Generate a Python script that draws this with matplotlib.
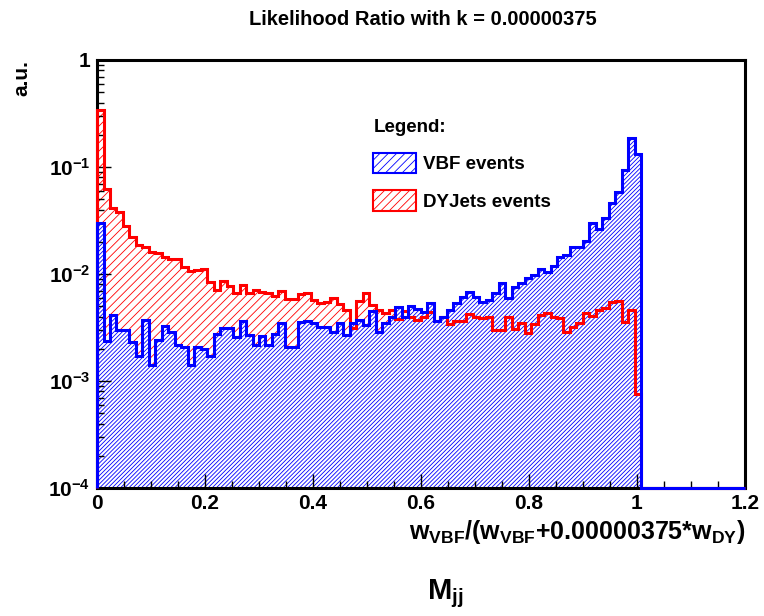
import numpy as np
import matplotlib

matplotlib.use("Agg")

import matplotlib.pyplot as plt
from matplotlib.patches import Patch
from matplotlib.ticker import FixedLocator, LogLocator, NullFormatter


# histogram contents, 100 bins over [0, 1.2], normalised (a.u.)
x_lo, x_hi, n_bins = 0.0, 1.2, 100

vbf_vals = [
    0.0298, 0.00238, 0.00414, 0.00300, 0.00300, 0.00233, 0.00172, 0.00372, 0.00141, 0.00242,
    0.00327, 0.00289, 0.00217, 0.00209, 0.00141, 0.00207, 0.00199, 0.00173, 0.00275, 0.00311,
    0.00310, 0.00255, 0.00366, 0.00271, 0.00217, 0.00264, 0.00217, 0.00273, 0.00346, 0.00209,
    0.00209, 0.00358, 0.00367, 0.00346, 0.00318, 0.00318, 0.00289, 0.00346, 0.00269, 0.00346,
    0.00372, 0.00334, 0.00454, 0.00289, 0.00346, 0.00399, 0.00495, 0.00394, 0.00497, 0.00471,
    0.00439, 0.00540, 0.00366, 0.00394, 0.00461, 0.00532, 0.00614, 0.00684, 0.00614, 0.00551,
    0.00571, 0.00660, 0.00818, 0.00593, 0.00756, 0.00818, 0.00912, 0.00979, 0.0111, 0.0105,
    0.0119, 0.0145, 0.0151, 0.0180, 0.0180, 0.0205, 0.0302, 0.0262, 0.0332, 0.0458,
    0.0588, 0.0937, 0.185, 0.132, 0, 0, 0, 0, 0, 0,
    0, 0, 0, 0, 0, 0, 0, 0, 0, 0,
]

dy_vals = [
    0.341, 0.0623, 0.0414, 0.0380, 0.0278, 0.0222, 0.0187, 0.0179, 0.0162, 0.0156,
    0.0145, 0.0137, 0.0137, 0.0116, 0.0107, 0.0109, 0.0112, 0.00833, 0.00715, 0.00861,
    0.00769, 0.00671, 0.00782, 0.00664, 0.00708, 0.00684, 0.00660, 0.00623, 0.00698, 0.00584,
    0.00584, 0.00650, 0.00660, 0.00571, 0.00532, 0.00551, 0.00601, 0.00521, 0.00461, 0.00311,
    0.00562, 0.00660, 0.00513, 0.00461, 0.00429, 0.00461, 0.00377, 0.00454, 0.00396, 0.00372,
    0.00394, 0.00444, 0.00366, 0.00394, 0.00341, 0.00366, 0.00366, 0.00423, 0.00394, 0.00385,
    0.00399, 0.00300, 0.00300, 0.00394, 0.00306, 0.00351, 0.00279, 0.00341, 0.00414, 0.00429,
    0.00399, 0.00385, 0.00289, 0.00322, 0.00346, 0.00429, 0.00405, 0.00461, 0.00478, 0.00551,
    0.00562, 0.00356, 0.00463, 0.000751, 0, 0, 0, 0, 0, 0,
    0, 0, 0, 0, 0, 0, 0, 0, 0, 0,
]

y_ticks = [1e-4, 1e-3, 1e-2, 1e-1, 1]
y_tick_labels = [r"$\mathrm{10^{-4}}$", r"$\mathrm{10^{-3}}$", r"$\mathrm{10^{-2}}$",
                 r"$\mathrm{10^{-1}}$", "1"]
x_ticks = [0, 0.2, 0.4, 0.6, 0.8, 1.0, 1.2]
x_tick_labels = ["0", "0.2", "0.4", "0.6", "0.8", "1", "1.2"]

BLUE_HATCH = "/" * 8
RED_HATCH = "/" * 4


def setup_style():
    plt.rcParams.update(
        {
            "font.family": ["Liberation Sans", "DejaVu Sans"],
            "font.weight": "bold",
            "mathtext.fontset": "custom",
            "mathtext.rm": "Liberation Sans:bold",
            "mathtext.it": "Liberation Sans:bold",
            "mathtext.bf": "Liberation Sans:bold",
            "hatch.linewidth": 0.6,
            "axes.linewidth": 2.2,
        }
    )


def main():
    fig = plt.figure(figsize=(7.64, 6.16), dpi=100)
    ax = fig.add_axes([0.127, 0.2078, 0.848, 0.6948])

    edges = np.linspace(x_lo, x_hi, n_bins + 1)
    floor = 1e-4
    vbf = np.where(np.array(vbf_vals) > 0, vbf_vals, floor)
    dy = np.where(np.array(dy_vals) > 0, dy_vals, floor)

    blue = "#0000ff"
    red = "#ff0000"

    # hatched fills: red first, blue drawn over it on white so only blue hatch shows below
    ax.stairs(dy, edges, baseline=floor, fill=True, facecolor="none",
              edgecolor=red, hatch=RED_HATCH, linewidth=0, zorder=1)
    ax.stairs(vbf, edges, baseline=floor, fill=True, facecolor="white",
              edgecolor=blue, hatch=BLUE_HATCH, linewidth=0, zorder=1.5)

    # outlines
    ax.stairs(dy, edges, baseline=floor, color=red, linewidth=2.2, zorder=3, clip_on=False)
    ax.stairs(vbf, edges, baseline=floor, color=blue, linewidth=2.2, zorder=4, clip_on=False)

    ax.set_yscale("log")
    ax.set_xlim(x_lo, x_hi)
    ax.set_ylim(1e-4, 1)

    ax.yaxis.set_major_locator(FixedLocator(y_ticks))
    ax.set_yticklabels(y_tick_labels)
    ax.yaxis.set_minor_locator(LogLocator(base=10, subs=np.arange(2, 10)))
    ax.yaxis.set_minor_formatter(NullFormatter())
    ax.set_xticks(x_ticks)
    ax.set_xticklabels(x_tick_labels)
    ax.xaxis.set_minor_locator(FixedLocator(np.arange(0, 1.2001, 0.05)))

    ax.tick_params(which="both", direction="in", top=False, right=False,
                   labelsize=15, width=1.0, color="black")
    ax.tick_params(which="major", length=10)
    ax.tick_params(which="minor", length=5)
    ax.tick_params(axis="x", pad=4)
    ax.tick_params(axis="y", pad=5)

    fig.text(0.554, 0.968, "Likelihood Ratio with k = 0.00000375", ha="center", va="center",
             fontsize=14.5, fontweight="bold")
    fig.text(0.975, 0.136, r"$\mathrm{w_{VBF}/(w_{VBF}{+}0.00000375{*}w_{DY})}$",
             ha="right", va="center", fontsize=18)
    fig.text(0.583, 0.036, r"$\mathrm{M_{jj}}$", ha="center", va="center", fontsize=21)
    fig.text(0.028, 0.902, "a.u.", rotation=90, ha="center", va="top",
             fontsize=15, fontweight="bold")

    handles = [
        Patch(facecolor="white", edgecolor=blue, hatch="////", linewidth=1.5),
        Patch(facecolor="white", edgecolor=red, hatch="////", linewidth=1.5),
    ]
    leg = ax.legend(handles, ["VBF events", "DYJets events"], title="Legend:",
                    loc="upper left", bbox_to_anchor=(0.412, 0.884), frameon=False,
                    borderpad=0, prop={"size": 13.5, "weight": "bold"},
                    handlelength=2.25, handleheight=1.3, handletextpad=0.4,
                    labelspacing=0.9)
    leg.get_title().set_fontsize(13.5)
    leg.get_title().set_fontweight("bold")
    leg._legend_box.align = "left"

    fig.savefig("out.png", dpi=100)


if __name__ == "__main__":
    setup_style()
    main()
